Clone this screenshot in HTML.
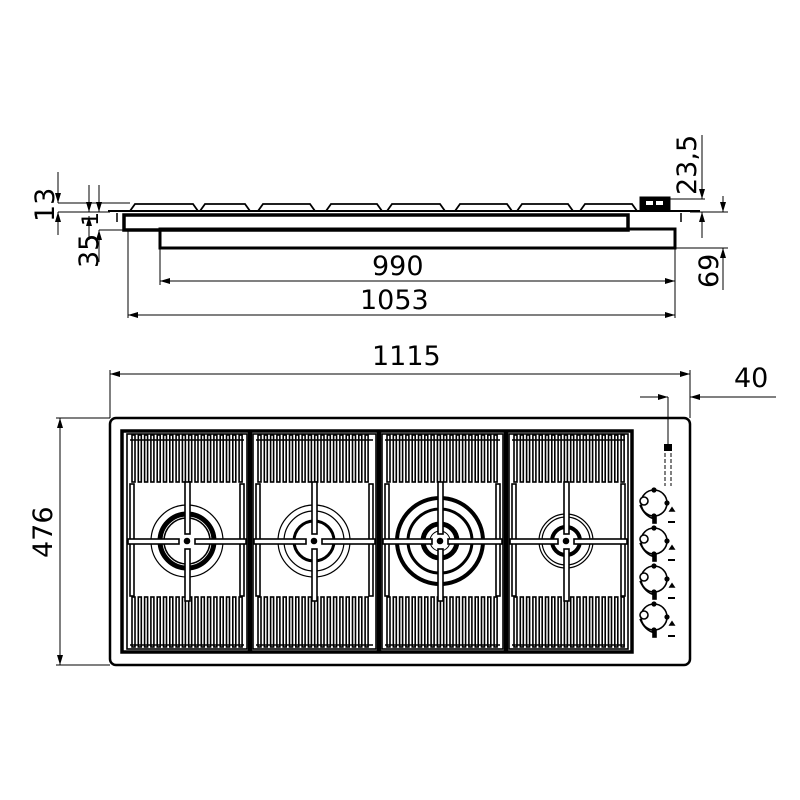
<!DOCTYPE html>
<html><head><meta charset="utf-8"><style>
html,body{margin:0;padding:0;background:#fff;width:800px;height:800px;overflow:hidden}
text{font-family:"DejaVu Sans","Liberation Sans",sans-serif;font-size:27px;fill:#000}
</style></head><body>
<svg id="s" width="800" height="800" viewBox="0 0 800 800" xmlns="http://www.w3.org/2000/svg">
<defs>
<marker id="a" viewBox="0 0 10 6" refX="10" refY="3" markerWidth="10" markerHeight="6" orient="auto-start-reverse" markerUnits="userSpaceOnUse"><path d="M0,0 L10,3 L0,6z"/></marker>
</defs>
<g fill="none" stroke="#000">
<!-- SIDE VIEW -->
<line x1="108" y1="211" x2="700" y2="211" stroke-width="2"/>
<rect x="124" y="215" width="504" height="15" stroke-width="3.5"/>
<rect x="160" y="229" width="515" height="19" stroke-width="3"/>
<line x1="117" y1="213" x2="117" y2="222" stroke-width="1.5"/>
<line x1="681" y1="213" x2="681" y2="222" stroke-width="1.5"/>
<rect x="640" y="197" width="30" height="13" fill="#000" stroke-width="1"/>
<rect x="646" y="201" width="7" height="4" fill="#fff" stroke="none"/>
<rect x="656" y="201" width="7" height="4" fill="#fff" stroke="none"/>
<g id="bumps" stroke-width="1.8"></g>
<!-- side dims -->
<line x1="58" y1="203" x2="130" y2="203" stroke-width="1"/>
<line x1="58" y1="212" x2="110" y2="212" stroke-width="1"/>
<line x1="99" y1="230" x2="124" y2="230" stroke-width="1"/>
<line x1="58" y1="172" x2="58" y2="203" stroke-width="1" marker-end="url(#a)"/>
<line x1="58" y1="235" x2="58" y2="212" stroke-width="1" marker-end="url(#a)"/>
<line x1="89" y1="185" x2="89" y2="212" stroke-width="1" marker-end="url(#a)"/>
<line x1="89" y1="240" x2="89" y2="216" stroke-width="1" marker-end="url(#a)"/>
<line x1="99" y1="185" x2="99" y2="212" stroke-width="1" marker-end="url(#a)"/>
<line x1="99" y1="262" x2="99" y2="230" stroke-width="1" marker-end="url(#a)"/>
<line x1="670" y1="199" x2="705" y2="199" stroke-width="1"/>
<line x1="690" y1="212" x2="728" y2="212" stroke-width="1"/>
<line x1="675" y1="248" x2="728" y2="248" stroke-width="1"/>
<line x1="702" y1="135" x2="702" y2="199" stroke-width="1" marker-end="url(#a)"/>
<line x1="702" y1="238" x2="702" y2="212" stroke-width="1" marker-end="url(#a)"/>
<line x1="723" y1="196" x2="723" y2="212" stroke-width="1" marker-end="url(#a)"/>
<line x1="723" y1="290" x2="723" y2="248" stroke-width="1" marker-end="url(#a)"/>
<line x1="128" y1="231" x2="128" y2="318" stroke-width="1"/>
<line x1="160" y1="248" x2="160" y2="285" stroke-width="1"/>
<line x1="675" y1="248" x2="675" y2="318" stroke-width="1"/>
<line x1="160" y1="281" x2="675" y2="281" stroke-width="1" marker-start="url(#a)" marker-end="url(#a)"/>
<line x1="128" y1="315" x2="675" y2="315" stroke-width="1" marker-start="url(#a)" marker-end="url(#a)"/>
<!-- top dims -->
<line x1="110" y1="370" x2="110" y2="418" stroke-width="1"/>
<line x1="690" y1="370" x2="690" y2="418" stroke-width="1"/>
<line x1="110" y1="374" x2="690" y2="374" stroke-width="1" marker-start="url(#a)" marker-end="url(#a)"/>
<line x1="668" y1="397" x2="668" y2="444" stroke-width="1"/>
<line x1="640" y1="397" x2="668" y2="397" stroke-width="1" marker-end="url(#a)"/>
<line x1="776" y1="397" x2="690" y2="397" stroke-width="1" marker-end="url(#a)"/>
<line x1="56" y1="418" x2="110" y2="418" stroke-width="1"/>
<line x1="56" y1="665" x2="110" y2="665" stroke-width="1"/>
<line x1="60" y1="418" x2="60" y2="665" stroke-width="1" marker-start="url(#a)" marker-end="url(#a)"/>
<!-- TOP VIEW -->
<rect x="110" y="418" width="580" height="247" rx="6" stroke-width="2.5"/>
<rect x="122" y="431" width="510" height="221" stroke-width="3.5"/>
<g id="grates" stroke-width="1.6"></g>
<g id="knobs" stroke-width="1.6"></g>
<rect x="664" y="444" width="8" height="7" fill="#000" stroke="none"/>
<line x1="665" y1="453" x2="665" y2="486" stroke-width="1" stroke-dasharray="4 2"/>
<line x1="671" y1="453" x2="671" y2="486" stroke-width="1" stroke-dasharray="4 2"/>
</g>
<text x="372" y="275">990</text>
<text x="360" y="309">1053</text>
<text x="372" y="365">1115</text>
<text x="734" y="387">40</text>
<text transform="translate(52,558) rotate(-90)">476</text>
<text transform="translate(54,222) rotate(-90)">13</text>
<text transform="translate(98,268) rotate(-90)">35</text>
<text transform="translate(98,226) rotate(-90)" style="font-size:22px">1</text>
<text transform="translate(696,195) rotate(-90)">23,5</text>
<text transform="translate(718,288) rotate(-90)">69</text>
</svg>
<script>
const NS="http://www.w3.org/2000/svg";
function el(p,t,a){const e=document.createElementNS(NS,t);for(const k in a)e.setAttribute(k,a[k]);p.appendChild(e);return e;}
const b=document.getElementById('bumps');
[[130,198],[200,250],[258,315],[326,382],[387,445],[455,512],[517,573],[580,637]].forEach(([x1,x2])=>{
 el(b,'path',{d:`M${x1} 211 L${x1+5} 204 L${x2-5} 204 L${x2} 211`});
});
const g=document.getElementById('grates');
const xs=[[124,250],[250,379],[379,506],[506,631]];
const bur=[[187,[[36,1.2],[27,5],[23,1.5]]],[314,[[36,1.2],[30,1.2],[20,3]]],[440,[[43,4],[32,3],[17,5],[10,1]]],[566,[[27,1.2],[24,1.2],[14,4]]]];
xs.forEach(([x1,x2],i)=>{
 if(i>0) el(g,'line',{x1:x1,y1:431,x2:x1,y2:652,'stroke-width':4.5});
 el(g,'rect',{x:x1+3,y:434,width:x2-x1-6,height:215});
 for(let x=x1+8;x<x2-8;x+=6.3){
   el(g,'rect',{x:x,y:435,width:3,height:47});
   el(g,'rect',{x:x,y:597,width:3,height:50});
 }
 el(g,'line',{x1:x1+6,y1:440,x2:x2-6,y2:440});
 el(g,'line',{x1:x1+6,y1:645,x2:x2-6,y2:645});
 el(g,'rect',{x:x1+6,y:484,width:4,height:112});
 el(g,'rect',{x:x2-10,y:484,width:4,height:112});
 const [cx,rings]=bur[i];
 rings.forEach(([r,w])=>el(g,'circle',{cx:cx,cy:541,r:r,'stroke-width':w}));
 el(g,'circle',{cx:cx,cy:541,r:2.5,fill:'#000'});
 el(g,'rect',{x:x1+4,y:539,width:cx-x1-12,height:5,fill:'#fff'});
 el(g,'rect',{x:cx+8,y:539,width:x2-cx-12,height:5,fill:'#fff'});
 el(g,'rect',{x:cx-2,y:482,width:5,height:52,fill:'#fff'});
 el(g,'rect',{x:cx-2,y:549,width:5,height:52,fill:'#fff'});
});
const k=document.getElementById('knobs');
[503,541,579,617].forEach(y=>{
 el(k,'circle',{cx:654,cy:y,r:13,fill:'#fff'});
 el(k,'circle',{cx:644,cy:y-2,r:4,fill:'#fff'});
 el(k,'path',{d:`M640 ${y+2} Q645 ${y+14} 655 ${y+16}`});
 [[654,y-13],[667,y],[654,y+13]].forEach(([x,yy])=>el(k,'circle',{cx:x,cy:yy,r:1.8,fill:'#000'}));
 el(k,'rect',{x:653,y:y+14,width:3,height:6,fill:'#000'});
 el(k,'path',{d:`M670 ${y+8} l2 -3 l2 3z`,fill:'#000'});
 el(k,'rect',{x:668,y:y+18,width:7,height:2,fill:'#000',stroke:'none'});
});
</script>
</body></html>
